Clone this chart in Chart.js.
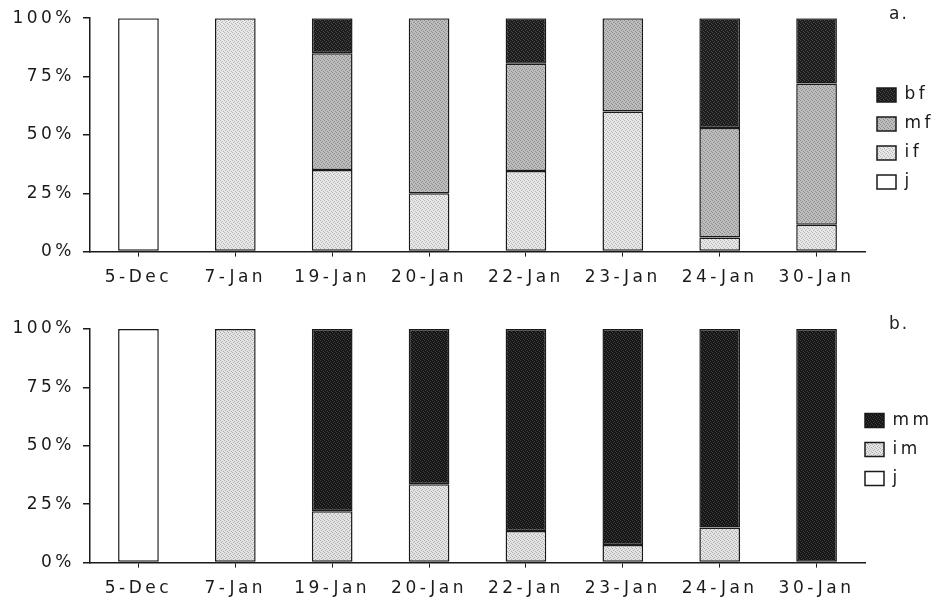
<!DOCTYPE html>
<html lang="en">
<head>
  <meta charset="UTF-8">
  <title>Stage composition by date</title>
  <script src="https://cdn.jsdelivr.net/npm/chart.js"></script>
  <style>
    body {
      margin: 0;
      background: #fff;
      overflow: hidden;
      font-family: "DejaVu Sans", Arial, sans-serif;
    }
    .wrap {
      position: relative;
      width: 943px;
      height: 602px;
      overflow: hidden;
    }
    .panel {
      position: absolute;
      left: 0;
      width: 943px;
    }
    #panelA { top: 0; height: 300px; }
    #panelB { top: 296px; height: 315px; }
    .tag {
      position: absolute;
      font-size: 17px;
      letter-spacing: 2px;
      color: #222;
    }
  </style>
</head>
<body>
  <div class="wrap">
    <div class="panel" id="panelA"><canvas id="chartA"></canvas></div>
    <div class="panel" id="panelB"><canvas id="chartB"></canvas></div>
    <div class="tag" style="left:889px; top:3px;">a.</div>
    <div class="tag" style="left:889px; top:313px;">b.</div>
  </div>

  <script>
    const dates = ['5-Dec', '7-Jan', '19-Jan', '20-Jan', '22-Jan', '23-Jan', '24-Jan', '30-Jan'];

    // panel a
    const aJ  = [100, null, null, null, null, null, null, null];
    const aIf = [null, 100, 35, 25, 34.5, 60, 6, 11.5];
    const aMf = [null, null, 50, 75, 46, 40, 47, 60.5];
    const aBf = [null, null, 15, null, 19.5, null, 47, 28];

    // panel b
    const bJ  = [100, null, null, null, null, null, null, null];
    const bIm = [null, 100, 22, 33.5, 13.5, 7.5, 15, null];
    const bMm = [null, null, 78, 66.5, 86.5, 92.5, 85, 100];

    const yTicks = [0, 25, 50, 75, 100];

    const FONT = "'DejaVu Sans', Arial, sans-serif";
    const INK = '#1a1a1a';

    // small fixed speckle tile, gives the printed-screen look of the fills
    function speckle(base, dot) {
      const c = document.createElement('canvas');
      c.width = 4; c.height = 4;
      const g = c.getContext('2d');
      g.fillStyle = base;
      g.fillRect(0, 0, 4, 4);
      g.fillStyle = dot;
      [[0, 0], [2, 1], [1, 2], [3, 3]].forEach(p => g.fillRect(p[0], p[1], 1, 1));
      return g.createPattern(c, 'repeat');
    }

    // wide-set lettering like the scanned original
    const spacing = {
      id: 'spacing',
      beforeUpdate(chart) { chart.ctx.letterSpacing = '3.5px'; },
      beforeDraw(chart) { chart.ctx.letterSpacing = '3.5px'; }
    };

    // nudge the legend block to where it sits in the figure
    const legendShift = {
      id: 'legendShift',
      afterLayout(chart, args, opts) {
        const lg = chart.legend;
        lg.left += opts.dx; lg.right += opts.dx;
        lg.top += opts.dy; lg.bottom += opts.dy;
      }
    };

    function ds(label, data, color) {
      return {
        label: label,
        data: data,
        backgroundColor: color,
        borderColor: INK,
        borderWidth: 1.5,
        borderSkipped: false,
        categoryPercentage: 1,
        barPercentage: 0.42
      };
    }

    function makeChart(id, datasets, pad, shift) {
      return new Chart(document.getElementById(id), {
        type: 'bar',
        data: { labels: dates, datasets: datasets },
        plugins: [spacing, legendShift],
        options: {
          responsive: true,
          maintainAspectRatio: false,
          animation: false,
          layout: { padding: pad },
          plugins: {
            tooltip: { enabled: false },
            legendShift: shift,
            legend: {
              position: 'right',
              reverse: true,
              maxWidth: 78,
              labels: {
                boxWidth: 19,
                boxHeight: 14,
                padding: 12,
                color: INK,
                font: { family: FONT, size: 17 }
              }
            }
          },
          scales: {
            x: {
              stacked: true,
              grid: { offset: false, drawOnChartArea: false, tickLength: 5, color: INK, lineWidth: 1 },
              border: { display: true, color: INK, width: 1.5 },
              ticks: { color: INK, padding: 11, font: { family: FONT, size: 17 } }
            },
            y: {
              stacked: true,
              min: 0,
              max: 100,
              afterBuildTicks: s => { s.ticks = yTicks.map(v => ({ value: v })); },
              afterFit: s => { s.width = 90; },
              grid: { drawOnChartArea: false, tickLength: 7, color: INK, lineWidth: 1.5 },
              border: { display: true, color: INK, width: 1.5 },
              ticks: {
                color: INK,
                padding: 8,
                font: { family: FONT, size: 17 },
                callback: v => v + '%'
              }
            }
          }
        }
      });
    }

    makeChart('chartA', [
      ds('j', aJ, '#ffffff'),
      ds('if', aIf, speckle('#e8e8e8', '#b4b4b4')),
      ds('mf', aMf, speckle('#bdbdbd', '#8c8c8c')),
      ds('bf', aBf, speckle('#1c1c1c', '#4a4a4a'))
    ], { top: 18, right: 0, bottom: 1, left: 0 }, { dx: 0, dy: -20 });

    makeChart('chartB', [
      ds('j', bJ, '#ffffff'),
      ds('im', bIm, speckle('#e4e4e4', '#adadad')),
      ds('mm', bMm, speckle('#161616', '#3e3e3e'))
    ], { top: 33, right: 0, bottom: 1, left: 0 }, { dx: -12, dy: -20 });
  </script>
</body>
</html>
